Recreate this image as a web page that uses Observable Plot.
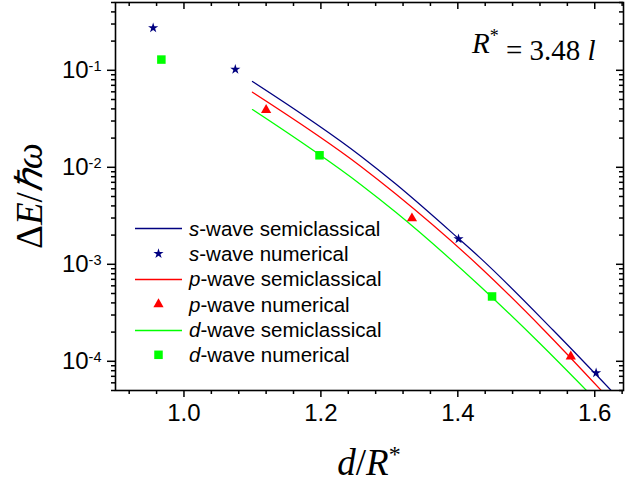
<!DOCTYPE html>
<html>
<head>
<meta charset="utf-8">
<script src="https://cdn.jsdelivr.net/npm/d3@7"></script>
<script src="https://cdn.jsdelivr.net/npm/@observablehq/plot@0.6"></script>
<style>
  html, body { margin: 0; padding: 0; background: white; }
  #chart { width: 626px; height: 485px; }
</style>
</head>
<body>
<div id="chart"></div>
<script>
// ---- data ----
const sNumX = [0.955, 1.075, 1.401, 1.602];
const sNumY = [0.274, 0.102, 0.00183, 7.6e-5];
const pNumX = [1.12, 1.333, 1.565];
const pNumY = [0.039, 0.00298, 1.12e-4];
const dNumX = [0.967, 1.198, 1.450];
const dNumY = [0.129, 0.0133, 4.66e-4];

const sSemiX = [1.100, 1.258, 1.309, 1.401, 1.433, 1.539, 1.624];
const sSemiY = [0.0767, 0.01308, 0.00676, 0.001845, 0.001158, 2.10e-4, 5.0e-5];
const pSemiX = [1.100, 1.258, 1.309, 1.433, 1.525, 1.6095];
const pSemiY = [0.0595, 0.01027, 0.00534, 9.27e-4, 2.13e-4, 5.0e-5];
const dSemiX = [1.100, 1.258, 1.309, 1.433, 1.520, 1.588];
const dSemiY = [0.0394, 0.00665, 0.00346, 5.90e-4, 1.525e-4, 5.0e-5];

const xMajor = [1.0, 1.2, 1.4, 1.6];
const xMinor = [0.92, 0.96, 1.04, 1.08, 1.12, 1.16, 1.24, 1.28, 1.32, 1.36, 1.44, 1.48, 1.52, 1.56, 1.64];
const yMajor = [1e-4, 1e-3, 1e-2, 1e-1];
const yMinor = [];
for (let e = -5; e <= -1; e++) for (let k = 2; k <= 9; k++) {
  const v = k * Math.pow(10, e);
  if (v >= 5e-5 * 0.999 && v <= 0.5 * 1.001) yMinor.push(+v.toPrecision(3));
}

const legendLabels = [
  ["s", "-wave semiclassical"],
  ["s", "-wave numerical"],
  ["p", "-wave semiclassical"],
  ["p", "-wave numerical"],
  ["d", "-wave semiclassical"],
  ["d", "-wave numerical"]
];

const NAVY = "#000080", RED = "#ff0000", GREEN = "#00ff00";
const rStar = 3.2, rTri = 3.8, rSq = 4.8;

const toRows = (xs, ys) => xs.map((x, i) => ({x, y: ys[i]}));

const W = 626, H = 485, mL = 115, mR = 3, mT = 2, mB = 95;
const plotW = W - mL - mR, plotH = H - mT - mB;
const SANS = "Arial, 'Liberation Sans', sans-serif";

const plot = Plot.plot({
  width: W, height: H,
  marginLeft: mL, marginRight: mR, marginTop: mT, marginBottom: mB,
  x: {domain: [0.9, 1.642]},
  y: {type: "log", domain: [5e-5, 0.5]},
  style: {fontFamily: SANS, fontSize: "24px", color: "black", background: "white", overflow: "visible"},
  marks: [
    Plot.line(toRows(sSemiX, sSemiY), {x: "x", y: "y", stroke: NAVY, strokeWidth: 1.25, curve: "monotone-x", clip: true}),
    Plot.line(toRows(pSemiX, pSemiY), {x: "x", y: "y", stroke: RED, strokeWidth: 1.25, curve: "monotone-x", clip: true}),
    Plot.line(toRows(dSemiX, dSemiY), {x: "x", y: "y", stroke: GREEN, strokeWidth: 1.25, curve: "monotone-x", clip: true}),
    Plot.dot(toRows(sNumX, sNumY), {x: "x", y: "y", symbol: "star", r: rStar, fill: NAVY, stroke: "none"}),
    Plot.dot(toRows(pNumX, pNumY), {x: "x", y: "y", symbol: "triangle", r: rTri, fill: RED, stroke: "none"}),
    Plot.dot(toRows(dNumX, dNumY), {x: "x", y: "y", symbol: "square", r: rSq, fill: GREEN, stroke: "none"}),
    Plot.axisX(xMajor, {tickSize: 7, tickPadding: 6, tickFormat: d => d.toFixed(1), label: null, strokeWidth: 1.5}),
    Plot.axisX(xMinor, {tickSize: 4, tickFormat: () => "", label: null, strokeWidth: 1.5}),
    Plot.axisY(yMajor, {tickSize: 8, tickPadding: 6, tickFormat: d => String(Math.round(Math.log10(d))), label: null, strokeWidth: 1.5}),
    Plot.axisY(yMinor, {tickSize: 4, tickFormat: () => "", label: null, strokeWidth: 1.5}),
    Plot.tickX(xMajor, {x: d => d, insetBottom: plotH - 7, strokeWidth: 1.5}),
    Plot.tickX(xMinor, {x: d => d, insetBottom: plotH - 4, strokeWidth: 1.5}),
    Plot.tickY(yMajor, {y: d => d, insetLeft: plotW - 7, strokeWidth: 1.5}),
    Plot.tickY(yMinor, {y: d => d, insetLeft: plotW - 4, strokeWidth: 1.5}),
    Plot.frame({stroke: "black", strokeWidth: 1.6})
  ]
});

document.getElementById("chart").appendChild(plot);
const svg = d3.select(plot);

// y tick labels as 10 with superscript exponent
svg.selectAll('g[aria-label="y-axis tick label"] text').each(function() {
  const t = d3.select(this);
  const e = t.text();
  if (!e) return;
  t.text(null);
  t.append("tspan").text("10");
  t.append("tspan").attr("dy", "-0.45em").attr("font-size", 14.5).text(e);
});

const serif = "'Liberation Serif', 'Times New Roman', Times, serif";

// y-axis title
const yl = svg.append("text")
  .attr("transform", `translate(42,${mT + plotH / 2}) rotate(-90)`)
  .attr("text-anchor", "middle")
  .attr("font-family", serif).attr("font-size", 37).attr("fill", "black");
yl.append("tspan").text("Δ");
yl.append("tspan").attr("font-style", "italic").text("E");
yl.append("tspan").text("/");
yl.append("tspan").attr("font-style", "italic").text("ℏω");

// x-axis title
const xl = svg.append("text")
  .attr("x", mL + plotW / 2).attr("y", 475)
  .attr("text-anchor", "middle")
  .attr("font-family", serif).attr("font-size", 37).attr("fill", "black");
xl.append("tspan").attr("font-style", "italic").text("d");
xl.append("tspan").text("/");
xl.append("tspan").attr("font-style", "italic").text("R");
xl.append("tspan").attr("dy", "-0.55em").attr("font-size", 24).text("*");

// annotation
const an = svg.append("text")
  .attr("x", 472).attr("y", 53).attr("text-anchor", "start")
  .attr("font-family", serif).attr("font-size", 29).attr("fill", "black");
an.append("tspan").attr("font-style", "italic").text("R");
an.append("tspan").attr("dy", "-0.6em").attr("font-size", 18).text("*");
an.append("tspan").attr("dy", "0.6em").text(" = 3.48 ");
an.append("tspan").attr("font-style", "italic").text("l");

// legend
const legendColors = [NAVY, NAVY, RED, RED, GREEN, GREEN];
const legendSym = [null, d3.symbolStar, null, d3.symbolTriangle, null, d3.symbolSquare];
const legendR = [0, rStar, 0, rTri, 0, rSq];
const lg = svg.append("g");
legendLabels.forEach((lab, i) => {
  const yy = 228.3 + i * 25.3;
  if (legendSym[i] === null) {
    const ly = Math.round(yy) + 0.5;
    lg.append("line").attr("x1", 135).attr("x2", 182).attr("y1", ly).attr("y2", ly)
      .attr("stroke", legendColors[i]).attr("stroke-width", 1.3);
  } else {
    lg.append("path")
      .attr("d", d3.symbol(legendSym[i], legendR[i] * legendR[i] * Math.PI)())
      .attr("transform", `translate(158.5,${yy})`)
      .attr("fill", legendColors[i]);
  }
  const tx = lg.append("text").attr("x", 189).attr("y", yy).attr("dy", "0.36em")
    .attr("text-anchor", "start")
    .attr("font-family", SANS).attr("font-size", 20.5).attr("fill", "black");
  tx.append("tspan").attr("font-style", "italic").text(lab[0]);
  tx.append("tspan").text(lab[1]);
});
</script>
</body>
</html>
